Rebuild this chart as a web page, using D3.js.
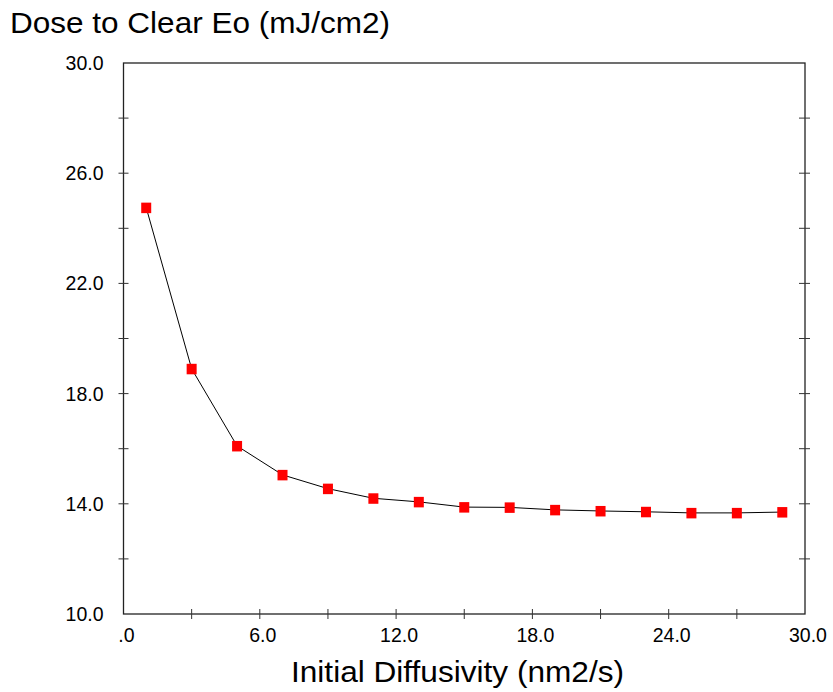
<!DOCTYPE html>
<html>
<head>
<meta charset="utf-8">
<script src="https://cdn.jsdelivr.net/npm/d3@7"></script>
<style>
  body { margin: 0; background: #fff; }
  text { font-family: "Liberation Sans", Arial, sans-serif; fill: #000; }
</style>
</head>
<body>
<div id="chart"></div>
<script>
// data
const diffusivity = [1, 3, 5, 7, 9, 11, 13, 15, 17, 19, 21, 23, 25, 27, 29];
const doseToClear = [24.75, 18.9, 16.1, 15.05, 14.55, 14.2, 14.07, 13.88, 13.87, 13.78, 13.74, 13.71, 13.67, 13.67, 13.7];
const xTickValues = [0, 3, 6, 9, 12, 15, 18, 21, 24, 27, 30];
const xLabelValues = [0, 6, 12, 18, 24, 30];
const yTickValues = [10, 12, 14, 16, 18, 20, 22, 24, 26, 28, 30];
const yLabelValues = [10, 14, 18, 22, 26, 30];

const width = 833, height = 692;
const margin = { top: 63, right: 28, bottom: 78, left: 123.5 };

const svg = d3.select("#chart").append("svg")
    .attr("width", width)
    .attr("height", height);

const x = d3.scaleLinear().domain([0, 30]).range([margin.left, width - margin.right]);
const y = d3.scaleLinear().domain([10, 30]).range([height - margin.bottom, margin.top]);

const fmtX = d => d === 0 ? ".0" : d.toFixed(1);

// frame
svg.append("rect")
    .attr("x", x(0)).attr("y", y(30))
    .attr("width", x(30) - x(0)).attr("height", y(10) - y(30))
    .attr("fill", "none").attr("stroke", "#222").attr("stroke-width", 1.3);

// ticks crossing the axes
svg.append("g").selectAll("line").data(yTickValues.slice(1, -1)).enter().append("line")
    .attr("x1", x(0) - 5).attr("x2", x(0) + 5)
    .attr("y1", d => y(d)).attr("y2", d => y(d))
    .attr("stroke", "#333");
svg.append("g").selectAll("line").data(yTickValues.slice(1, -1)).enter().append("line")
    .attr("x1", x(30) - 6).attr("x2", x(30) + 5)
    .attr("y1", d => y(d)).attr("y2", d => y(d))
    .attr("stroke", "#333");
svg.append("g").selectAll("line").data(xTickValues.slice(1, -1)).enter().append("line")
    .attr("x1", d => x(d)).attr("x2", d => x(d))
    .attr("y1", y(10) - 5).attr("y2", y(10) + 5)
    .attr("stroke", "#333");

// tick labels
svg.append("g").selectAll("text").data(yLabelValues).enter().append("text")
    .attr("x", x(0) - 20)
    .attr("y", d => y(d) + 7)
    .attr("text-anchor", "end")
    .style("font-size", "19.5px")
    .text(d => d.toFixed(1));

svg.append("g").selectAll("text").data(xLabelValues).enter().append("text")
    .attr("x", d => x(d) + 3)
    .attr("y", y(10) + 28)
    .attr("text-anchor", "middle")
    .style("font-size", "19.5px")
    .text(fmtX);

// line + square markers
const pts = diffusivity.map((d, i) => ({ x: d, y: doseToClear[i] }));

svg.append("path")
    .datum(pts)
    .attr("fill", "none")
    .attr("stroke", "#000")
    .attr("stroke-width", 1)
    .attr("d", d3.line().x(d => x(d.x)).y(d => y(d.y)));

svg.append("g").selectAll("rect").data(pts).enter().append("rect")
    .attr("x", d => x(d.x) - 5)
    .attr("y", d => y(d.y) - 5)
    .attr("width", 10).attr("height", 10.5)
    .attr("fill", "#ff0000");

// titles
svg.append("text")
    .attr("x", 10).attr("y", 33)
    .attr("textLength", 380)
    .attr("lengthAdjust", "spacingAndGlyphs")
    .style("font-size", "29px")
    .text("Dose to Clear Eo (mJ/cm2)");

svg.append("text")
    .attr("x", 291).attr("y", 682)
    .attr("textLength", 333)
    .attr("lengthAdjust", "spacingAndGlyphs")
    .style("font-size", "29px")
    .text("Initial Diffusivity (nm2/s)");
</script>
</body>
</html>
